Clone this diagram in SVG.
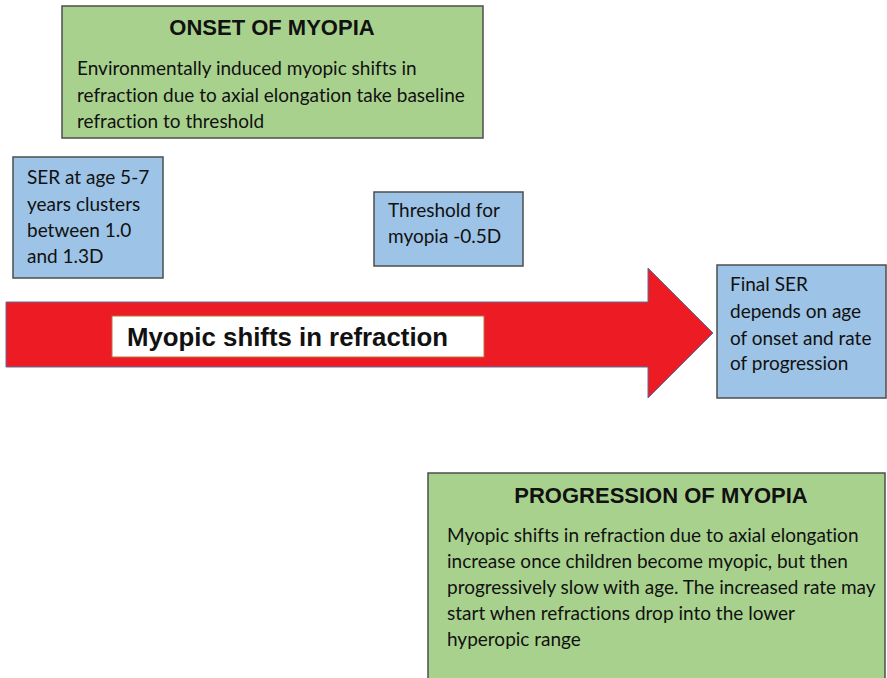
<svg xmlns="http://www.w3.org/2000/svg" width="887" height="678" viewBox="0 0 887 678">
<style>
.green{fill:#a9d18e;stroke:#4d4d4d;stroke-width:1.5}
.blue{fill:#9dc3e6;stroke:#4d4d4d;stroke-width:1.5}
.title{font-family:"Liberation Sans",Arial,sans-serif;font-weight:bold;font-size:22px;fill:#111;text-anchor:middle}
.body{font-family:Lato,"Liberation Sans",sans-serif;font-size:19px;fill:#111;font-variant-ligatures:none}
.big{font-family:"Liberation Sans",Arial,sans-serif;font-weight:bold;font-size:25.8px;fill:#111}
</style>
<rect width="887" height="678" fill="#ffffff"/>
<g id="arrow">
<path d="M6,302 L648,302 L648,268 L713,333 L648,398 L648,367 L6,367 Z" fill="#ed1c24" stroke="#5b6fa0" stroke-width="1"/>
</g>
<g id="arrow-label">
<rect x="112" y="316" width="372" height="41" fill="#ffffff" stroke="#b8743a" stroke-width="1"/>
<text class="big" x="127" y="346">Myopic shifts in refraction</text>
</g>
<g id="onset">
<rect class="green" x="62" y="6" width="421" height="132"/>
<text class="title" x="272" y="35">ONSET OF MYOPIA</text>
<text class="body" x="77" y="75">Environmentally induced myopic shifts in</text>
<text class="body" x="77" y="102">refraction due to axial elongation take baseline</text>
<text class="body" x="77" y="128">refraction to threshold</text>
</g>
<g id="ser">
<rect class="blue" x="13" y="157" width="150" height="121"/>
<text class="body" x="27" y="184">SER at age 5-7</text>
<text class="body" x="27" y="211">years clusters</text>
<text class="body" x="27" y="237">between 1.0</text>
<text class="body" x="27" y="263">and 1.3D</text>
</g>
<g id="threshold">
<rect class="blue" x="374" y="192" width="149" height="74"/>
<text class="body" x="388" y="217">Threshold for</text>
<text class="body" x="388" y="243">myopia -0.5D</text>
</g>
<g id="final">
<rect class="blue" x="717" y="265" width="169" height="133"/>
<text class="body" x="730" y="291">Final SER</text>
<text class="body" x="730" y="318">depends on age</text>
<text class="body" x="730" y="345">of onset and rate</text>
<text class="body" x="730" y="370">of progression</text>
</g>
<g id="progression">
<rect class="green" x="428" y="473" width="457" height="210"/>
<text class="title" x="661" y="503">PROGRESSION OF MYOPIA</text>
<text class="body" x="447" y="542">Myopic shifts in refraction due to axial elongation</text>
<text class="body" x="447" y="568">increase once children become myopic, but then</text>
<text class="body" x="447" y="594">progressively slow with age. The increased rate may</text>
<text class="body" x="447" y="620">start when refractions drop into the lower</text>
<text class="body" x="447" y="646">hyperopic range</text>
</g>
<g id="connectors"></g>
</svg>
